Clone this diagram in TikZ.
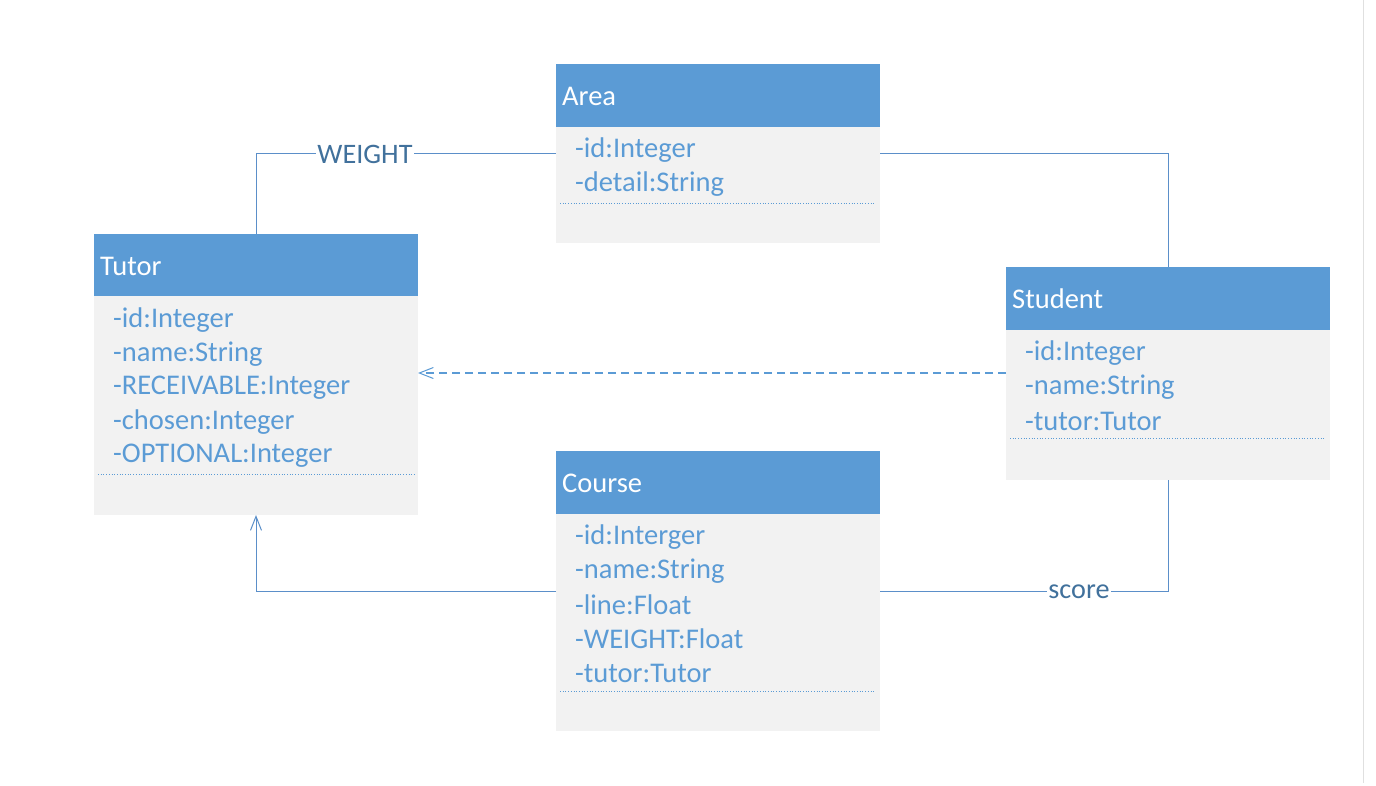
\documentclass[tikz,border=0pt]{standalone}
\usepackage{fontspec}
\setmainfont{Carlito}
\usetikzlibrary{arrows.meta,calc}
\definecolor{hdr}{HTML}{5B9BD5}
\definecolor{bodyc}{HTML}{F2F2F2}
\definecolor{lbl}{HTML}{41719C}
\definecolor{conn}{HTML}{5B8FC9}
\tikzset{
 hdrbox/.style={fill=hdr, draw=none, anchor=north west, minimum width=324pt, minimum height=63pt, inner sep=0pt, outer sep=0pt},
 bodybox/.style={fill=bodyc, draw=none, anchor=north west, minimum width=324pt, inner sep=0pt, outer sep=0pt},
 titletxt/.style={anchor=west, text=white, font=\fontsize{28.5}{32}\selectfont, inner sep=0pt},
 attr/.style={anchor=west, text=hdr, font=\fontsize{28.5}{32}\selectfont, inner sep=0pt},
 sepline/.style={draw=hdr, dotted, line width=0.7pt},
 conline/.style={draw=conn, line width=1pt},
 dashline/.style={draw=hdr, line width=1.3pt, dash pattern=on 8pt off 5pt},
 barb/.style={-{Straight Barb[length=14pt,width=11pt,line width=1pt]}},
 lab/.style={fill=white, text=lbl, font=\fontsize{28.2}{32}\selectfont, inner sep=1pt},
}
\begin{document}
\begin{tikzpicture}[x=1pt,y=-1pt]
\useasboundingbox (0,0) rectangle (1376,785);
\fill[white] (0,0) rectangle (1376,785);
\draw[black!12, line width=1pt] (1363,0) -- (1363,783);

% Area
\node[hdrbox] (areaH) at (556,64) {};
\node[bodybox, minimum height=116pt] (areaB) at (556,127) {};
\node[titletxt] (areaT) at (562,96) {Area};
\node[attr] (areaA1) at (575,150) {-id:Integer};
\node[attr] (areaA2) at (575,184) {-detail:String};
\draw[sepline] (560,203) -- (875,203);

% Tutor
\node[hdrbox] (tutorH) at (94,234) {};
\node[bodybox, minimum height=219pt] (tutorB) at (94,296) {};
\node[titletxt] (tutorT) at (100,266) {Tutor};
\node[attr] (tutorA1) at (113,320) {-id:Integer};
\node[attr] (tutorA2) at (113,354) {-name:String};
\node[attr] (tutorA3) at (113,388) {-RECEIVABLE:Integer};
\node[attr] (tutorA4) at (113,422) {-chosen:Integer};
\node[attr] (tutorA5) at (113,456) {-OPTIONAL:Integer};
\draw[sepline] (98,474) -- (414,474);

% Student
\node[hdrbox] (studentH) at (1006,267) {};
\node[bodybox, minimum height=150pt] (studentB) at (1006,330) {};
\node[titletxt] (studentT) at (1012,299) {Student};
\node[attr] (studentA1) at (1025,353) {-id:Integer};
\node[attr] (studentA2) at (1025,387) {-name:String};
\node[attr] (studentA3) at (1025,421) {-tutor:Tutor};
\draw[sepline] (1010,438) -- (1325,438);

% Course
\node[hdrbox] (courseH) at (556,451) {};
\node[bodybox, minimum height=217pt] (courseB) at (556,514) {};
\node[titletxt] (courseT) at (562,483) {Course};
\node[attr] (courseA1) at (575,537) {-id:Interger};
\node[attr] (courseA2) at (575,571) {-name:String};
\node[attr] (courseA3) at (575,605) {-line:Float};
\node[attr] (courseA4) at (575,639) {-WEIGHT:Float};
\node[attr] (courseA5) at (575,673) {-tutor:Tutor};
\draw[sepline] (560,691) -- (875,691);

% connectors
\coordinate (yW) at (0,153);
\coordinate (yD) at (0,373);
\coordinate (yC) at (0,591);
\draw[conline] (tutorH.north) |- (areaB.west |- yW);
\node[lab] (wlab) at (365,154) {WEIGHT};
\draw[conline] (areaB.east |- yW) -| (studentH.north);
\draw[dashline, barb] (studentB.west |- yD) -- (tutorB.east |- yD);
\draw[conline, barb] (courseB.west |- yC) -| (tutorB.south);
\draw[conline] (courseB.east |- yC) -| (studentB.south);
\node[lab] (slab) at (1079,592) {score};
\end{tikzpicture}
\end{document}
